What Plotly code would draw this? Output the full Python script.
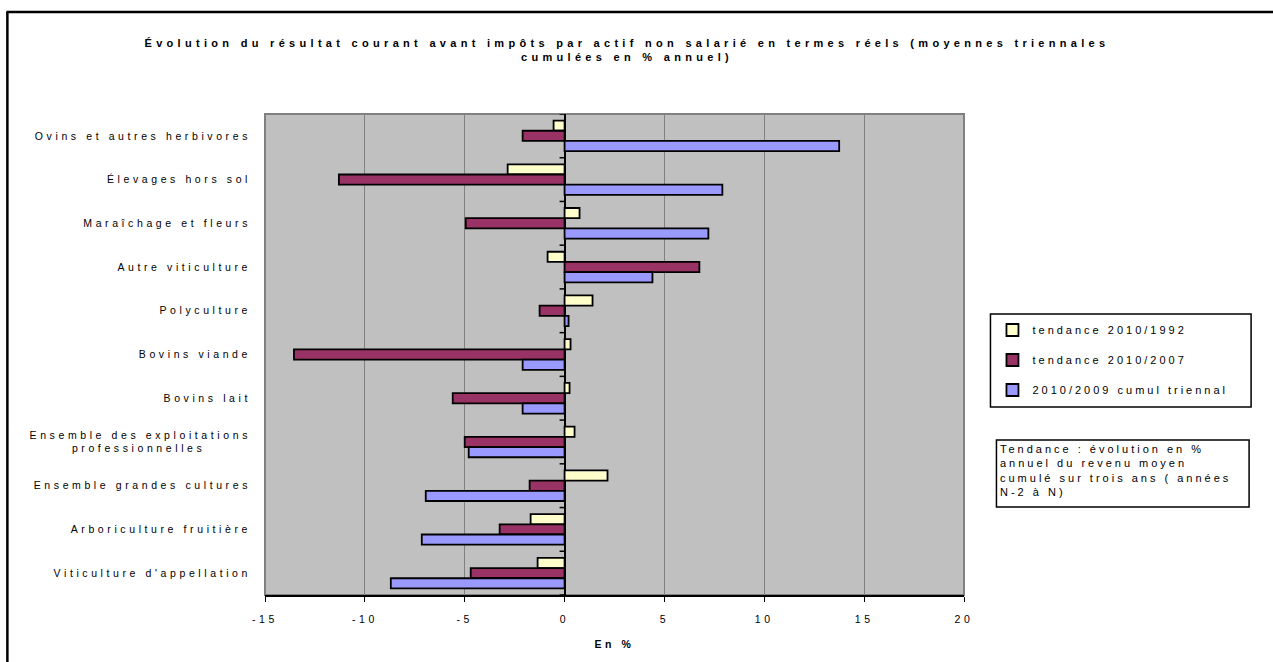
import plotly.graph_objects as go

# Farm types, listed from top to bottom of the chart
categories = [
    "Ovins et autres herbivores",
    "Élevages hors sol",
    "Maraîchage et fleurs",
    "Autre viticulture",
    "Polyculture",
    "Bovins viande",
    "Bovins lait",
    "Ensemble des exploitations<br>professionnelles" + "\u00a0" * 7,
    "Ensemble grandes cultures",
    "Arboriculture fruitière",
    "Viticulture d'appellation",
]

# Annual % change of income per non-salaried worker
tendance_2010_1992 = [-0.55, -2.85, 0.75, -0.85, 1.4, 0.3, 0.25, 0.5, 2.15, -1.7, -1.35]
tendance_2010_2007 = [-2.1, -11.3, -4.95, 6.75, -1.25, -13.55, -5.6, -5.0, -1.75, -3.25, -4.7]
cumul_2010_2009 = [13.75, 7.9, 7.2, 4.4, 0.2, -2.1, -2.1, -4.8, -6.95, -7.15, -8.7]

series_names = ["tendance 2010/1992", "tendance 2010/2007", "2010/2009 cumul triennal"]
series_values = [tendance_2010_1992, tendance_2010_2007, cumul_2010_2009]
series_colors = ["#FFFFCC", "#993366", "#9999FF"]

x_ticks = [-15, -10, -5, 0, 5, 10, 15, 20]

W, H = 1273, 662
ML, MR, MT, MB = 264.5, 308.5, 114, 67
PW, PH = W - ML - MR, H - MT - MB

FONT = "Liberation Sans, Arial, sans-serif"


def px_x(p):
    return (p - ML) / PW


def px_y(p):
    return (H - MB - p) / PH


fig = go.Figure()
for name, vals, col in zip(series_names, series_values, series_colors):
    fig.add_trace(go.Bar(
        y=categories, x=vals, name=name, orientation="h",
        marker=dict(color=col, line=dict(color="black", width=1.8)),
        legendgroup=name,
    ))

shapes = []
# outer chart frame (left and top edges)
shapes.append(dict(type="line", xref="paper", yref="paper",
                   x0=px_x(6.5), x1=px_x(6.5), y0=px_y(12), y1=px_y(670),
                   line=dict(color="black", width=2.5), layer="below"))
shapes.append(dict(type="line", xref="paper", yref="paper",
                   x0=px_x(5.5), x1=px_x(1280), y0=px_y(12), y1=px_y(12),
                   line=dict(color="black", width=2.5), layer="below"))
# plot area border
shapes.append(dict(type="rect", xref="paper", yref="paper",
                   x0=0, x1=1, y0=0, y1=1,
                   line=dict(color="#808080", width=2), layer="below"))
# legend box
shapes.append(dict(type="rect", xref="paper", yref="paper",
                   x0=px_x(991), x1=px_x(1252), y0=px_y(407), y1=px_y(314),
                   line=dict(color="black", width=1.5), fillcolor="white", layer="below"))
# note box
shapes.append(dict(type="rect", xref="paper", yref="paper",
                   x0=px_x(997), x1=px_x(1250), y0=px_y(507), y1=px_y(440),
                   line=dict(color="black", width=1.5), fillcolor="white", layer="below"))
# category separators on the vertical axis at zero
for i in range(len(categories) + 1):
    shapes.append(dict(type="line", xref="x", yref="y", xsizemode="pixel", xanchor=0,
                       x0=-5, x1=0, y0=i - 0.5, y1=i - 0.5,
                       line=dict(color="black", width=1.5)))

fig.update_layout(
    width=W, height=H,
    margin=dict(l=ML, r=MR, t=MT, b=MB, autoexpand=False),
    paper_bgcolor="white", plot_bgcolor="#C0C0C0",
    barmode="group", bargap=0.3, bargroupgap=0,
    font=dict(family=FONT, size=10.5, color="black"),
    title=dict(
        text="Évolution du résultat courant avant impôts par actif non salarié en termes réels (moyennes triennales<br>cumulées en % annuel)",
        font=dict(family=FONT, size=11, color="black", weight="bold"),
        x=627 / W, xanchor="center", xref="container",
        y=1 - 47 / H, yanchor="middle", yref="container",
    ),
    xaxis=dict(
        range=[-15, 20], tickvals=x_ticks, ticktext=[str(v) for v in x_ticks],
        showgrid=True, gridcolor="#808080", gridwidth=1,
        zeroline=True, zerolinecolor="black", zerolinewidth=2,
        showline=True, linecolor="black", linewidth=2,
        ticks="outside", ticklen=5, tickcolor="black", tickwidth=1,
        ticklabelstandoff=8,
        tickfont=dict(family=FONT, size=10.5),
        title=dict(text="En %", font=dict(family=FONT, size=10.5, weight="bold"), standoff=17),
        fixedrange=True,
    ),
    yaxis=dict(
        type="category", range=[len(categories) - 0.5, -0.5],
        showgrid=False, zeroline=False, showline=False, ticks="",
        ticklabelstandoff=13,
        tickfont=dict(family=FONT, size=10.5),
        fixedrange=True,
    ),
    legend=dict(
        x=px_x(993), xanchor="left", y=px_y(315.5), yanchor="top",
        bgcolor="rgba(0,0,0,0)", borderwidth=0,
        font=dict(family=FONT, size=11), tracegroupgap=11,
        traceorder="grouped",
    ),
    shapes=shapes,
    annotations=[dict(
        text="Tendance : évolution en %<br>annuel du revenu moyen<br>cumulé sur trois ans ( années<br>N-2 à N)",
        xref="paper", yref="paper", x=px_x(999), y=px_y(470.5), xanchor="left", yanchor="middle",
        align="left", showarrow=False, font=dict(family=FONT, size=11),
    )],
    showlegend=True,
)

# wide letter spacing used by the texts of this chart
spacing_css = (
    "var s=document.createElement('style');"
    "s.textContent='.main-svg text{letter-spacing:3.6px}"
    " .main-svg .gtitle{letter-spacing:4.3px}"
    " .main-svg .legendtext, .main-svg .annotation-text{letter-spacing:3px}"
    " .main-svg .legend, .main-svg .legend g{clip-path:none !important}';"
    "document.head.appendChild(s);"
)

fig.write_html("out.html", config={"displayModeBar": False}, post_script=spacing_css)
